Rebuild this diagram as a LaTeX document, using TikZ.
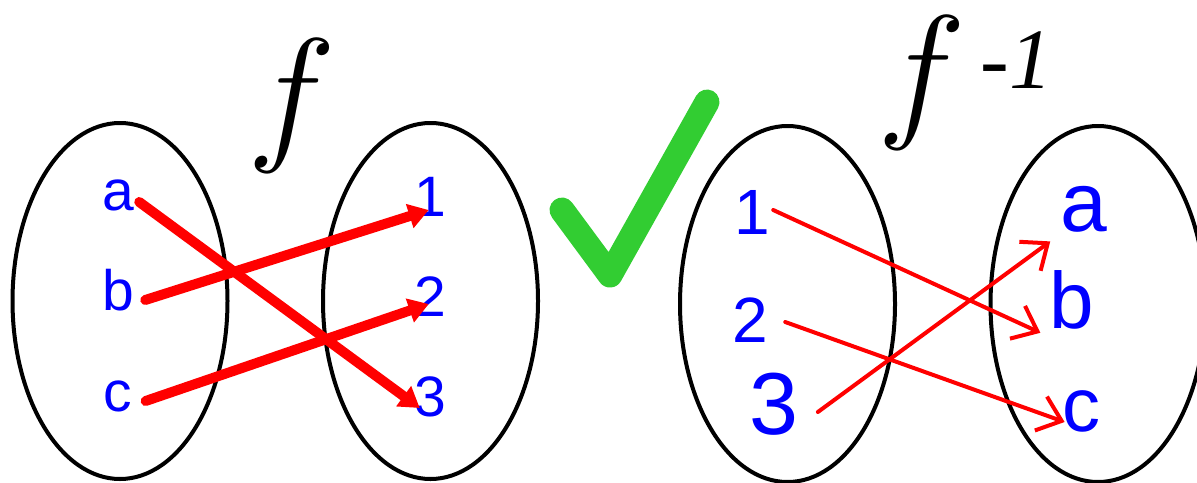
\documentclass[tikz,border=0pt]{standalone}
\usepackage{fontspec}
\setmainfont{Liberation Serif}
\setsansfont{Liberation Sans}
\usepackage{graphicx}
\usepackage{xcolor}
\usepackage{tikz}
\usetikzlibrary{shapes.geometric, arrows.meta, positioning, calc}
\definecolor{tickgreen}{RGB}{50,205,50}
\newcommand{\hwsize}[1]{\sffamily\fontsize{#1}{#1}\selectfont}
\newcommand{\bigf}{\scalebox{3.02}{$f$}}

\begin{document}
\begin{tikzpicture}[x=0.5pt, y=-0.5pt, >={Triangle[length=10pt, width=12pt]}]
        \tikzstyle{set} = [ellipse, draw=black, line width=2pt, minimum width=107.5pt, minimum height=178pt, inner sep=0pt]
        \tikzstyle{elt} = [inner sep=0pt, text=blue, font=\hwsize{28.5}]
        \tikzstyle{hw} = [inner sep=0pt, text=blue]
        \tikzstyle{map} = [->, line width=5pt, draw=red, line cap=round]
        \tikzstyle{hmap} = [-{Straight Barb[length=11pt, width=18pt]}, line width=2pt, draw=red, line cap=round, line join=round]
        \tikzstyle{fname} = [inner sep=0pt, font=\fontsize{24.88}{30}\selectfont]

        \useasboundingbox (0,0) rectangle (1197,482);

        % The function f
        \node (dom) [set] at (120,301) {}; \node (cod) [set] at (430.5,301) {};
        \node (fl) [fname] at (292,106) {\bigf};
        \node (la) [elt] at (118,195) {a}; \node (lb) [elt] at (118,290) {b}; \node (lc) [elt] at (118,396) {c};
        \node (n1) [elt] at (430,197) {1}; \node (n2) [elt] at (430,297) {2}; \node (n3) [elt] at (430,397) {3};

        \draw [map] ($(la.east)+(5,7)$) -- ($(n3.west)+(6,11)$);
        \draw [map] ($(lb.east)+(11,10)$) -- ($(n1.west)+(15,13)$);
        \draw [map] ($(lc.east)+(13,5)$) -- ($(n2.west)+(15,7)$);

        % Tick
        \draw [line width=12.5pt, draw=tickgreen, line cap=round, line join=round] (562,210) -- (610,275) -- (707,102);

        % The inverse, drawn by hand
        \node (idom) [set] at (787.5,304) {}; \node (icod) [set] at (1098,304) {};
        \node (fr) [fname] at (922,83) {\bigf};
        \node (finv) [fname, font=\itshape\fontsize{43}{43}\selectfont, anchor=base west] at (980,88) {-1};
        \node (i1) [hw, font=\hwsize{32}] at (752,212) {1}; \node (i2) [hw, font=\hwsize{32}] at (750,320) {2}; \node (i3) [hw, font=\hwsize{44}] at (774,404) {3};
        \node (ia) [hw, font=\hwsize{42}] at (1084,209) {a}; \node (ib) [hw, font=\hwsize{40}] at (1072,300) {b}; \node (ic) [hw, font=\hwsize{38}] at (1081,411) {c};

        \draw [hmap] ($(i1.east)+(3,-2)$) -- ($(ib.south west)+(-9,3)$);
        \draw [hmap] ($(i2.east)+(17,2)$) -- ($(ic.west)+(3,11)$);
        \draw [hmap] ($(i3.east)+(19,8)$) -- ($(ia.south west)+(-10,9)$);
    \end{tikzpicture}
\end{document}
